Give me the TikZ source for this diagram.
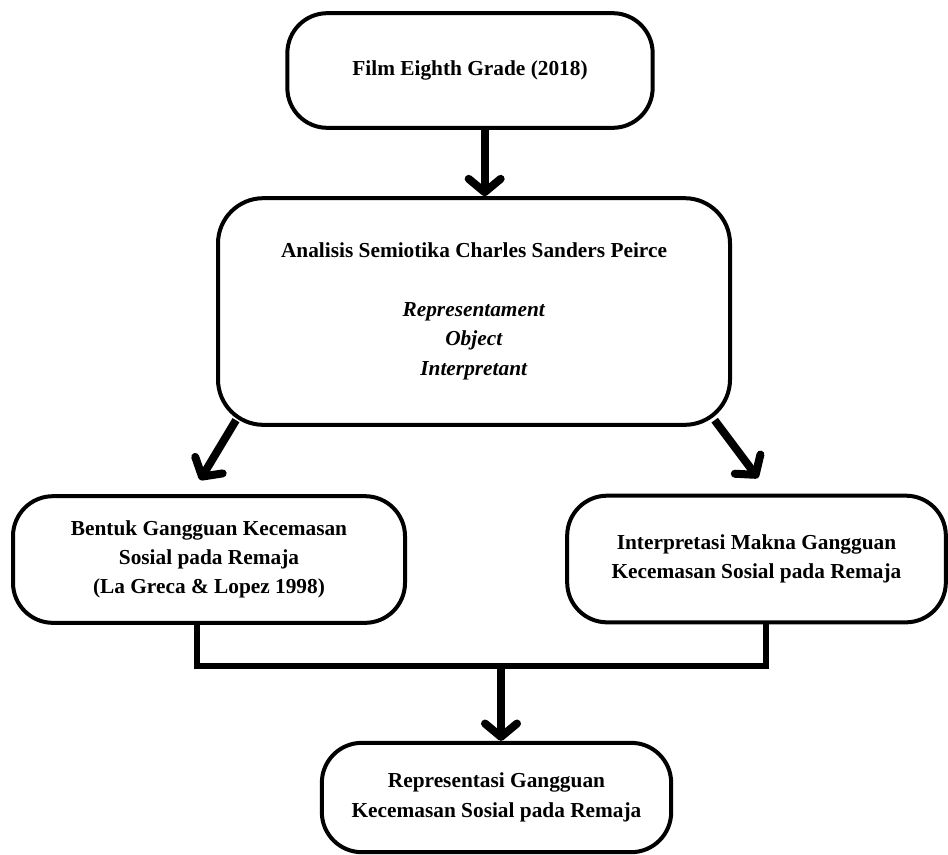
\documentclass[tikz,border=0pt]{standalone}
\usepackage{fontspec}
\setmainfont{Liberation Serif}
\usepackage{tikz}
\usetikzlibrary{arrows.meta, positioning, calc}

\tikzset{
  kotak/.style={draw, line width=3pt, rounded corners=30pt, align=center, inner sep=0pt,
    font=\bfseries\fontsize{16}{22}\selectfont},
  panah/.style={line width=6pt, -{Straight Barb[length=10pt, width=24pt, line cap=round, line join=round]}},
  garis/.style={line width=5pt}
}

\begin{document}
\begin{tikzpicture}[x=0.75pt, y=-0.75pt]
          \useasboundingbox (0,0) rectangle (948,854);

          \node[kotak, minimum width=274pt, minimum height=86pt] (film) at (470,70.5)
            {Film Eighth Grade (2018)};
          \node[kotak, rounded corners=34pt, minimum width=384pt, minimum height=170pt] (peirce) at (474,311.5)
            {Analisis Semiotika Charles Sanders Peirce\\[22pt]
             \textit{Representament}\\ \textit{Object}\\ \textit{Interpretant}};
          \node[kotak, minimum width=294pt, minimum height=95pt] (bentuk) at (209,559.5)
            {Bentuk Gangguan Kecemasan\\ Sosial pada Remaja\\ (La Greca \& Lopez 1998)};
          \node[kotak, minimum width=284pt, minimum height=95pt] (interp) at (756.5,559)
            {Interpretasi Makna Gangguan\\ Kecemasan Sosial pada Remaja};
          \node[kotak, minimum width=262pt, minimum height=82pt] (repr) at (496.5,797.5)
            {Representasi Gangguan\\ Kecemasan Sosial pada Remaja};

          \coordinate (kiri) at (200,480);
          \coordinate (kanan) at (758,478);
          \coordinate (temu) at (501,666);

          \draw[panah] ([xshift=11pt]film.south) -- ([xshift=11pt]film.south |- peirce.north);
          \draw[panah] ([xshift=15pt, yshift=5pt]peirce.south west) -- (kiri);
          \draw[panah] ([xshift=-13pt, yshift=5pt]peirce.south east) -- (kanan);

          \draw[garis] ([xshift=-9pt]bentuk.south) |- (temu) -| ([xshift=7pt]interp.south);
          \draw[panah] (temu) -- (temu |- repr.north);
        \end{tikzpicture}
\end{document}
